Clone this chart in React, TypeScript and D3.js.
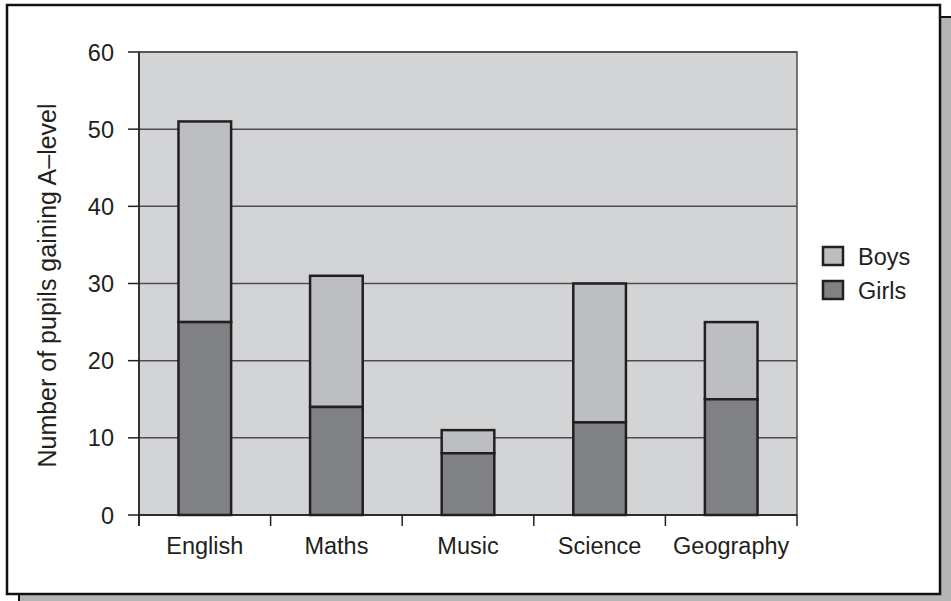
import React from "react";
import * as d3 from "d3";

const categories = ["English", "Maths", "Music", "Science", "Geography"];
const girls = [25, 14, 8, 12, 15];
const boys = [26, 17, 3, 18, 10];
const yTicks = [0, 10, 20, 30, 40, 50, 60];
const seriesNames = ["Boys", "Girls"];
const yLabel = "Number of pupils gaining A\u2013level";

const W = 951;
const H = 601;
const plot = { left: 139, right: 797, top: 52, bottom: 515 };
const ink = "#231f20";
const bg = "#d3d4d6";
const boyFill = "#bdbec1";
const girlFill = "#808184";
const font = "'Liberation Sans', Arial, Helvetica, sans-serif";
const fs = 23.5;

export default function App() {
  const x = d3
    .scaleBand<string>()
    .domain(categories)
    .range([plot.left, plot.right])
    .paddingInner(0.6)
    .paddingOuter(0.3);
  const y = d3.scaleLinear().domain([0, 60]).range([plot.bottom, plot.top]);
  const step = x.step();
  const boundaries = d3.range(categories.length + 1).map((i) => plot.left + i * step);

  return (
    <svg
      width={W}
      height={H}
      style={{ position: "absolute", left: 0, top: 0, display: "block" }}
      fontFamily={font}
    >
      <rect x={0} y={0} width={W} height={H} fill="#ffffff" />
      {/* shadow */}
      <rect x={19} y={17} width={W} height={H} fill="#b5b5b5" stroke="#111" strokeWidth={2} />
      {/* frame */}
      <rect x={7} y={5} width={933} height={589} fill="#ffffff" stroke="#111" strokeWidth={2.5} />

      {/* plot background */}
      <rect
        x={plot.left}
        y={plot.top}
        width={plot.right - plot.left}
        height={plot.bottom - plot.top}
        fill={bg}
        stroke="#4d4d4f"
        strokeWidth={1.5}
      />
      {/* gridlines */}
      {yTicks.map((t) => (
        <line
          key={"g" + t}
          x1={plot.left}
          x2={plot.right}
          y1={y(t)}
          y2={y(t)}
          stroke="#4d4d4f"
          strokeWidth={1.5}
        />
      ))}
      {/* y axis */}
      <line x1={plot.left} x2={plot.left} y1={plot.top} y2={plot.bottom + 11} stroke={ink} strokeWidth={1.5} />
      {yTicks.map((t) => (
        <g key={"y" + t}>
          <line x1={plot.left - 11} x2={plot.left} y1={y(t)} y2={y(t)} stroke={ink} strokeWidth={1.5} />
          <text x={114} y={y(t) + 8.5} textAnchor="end" fontSize={fs} fill={ink}>
            {t}
          </text>
        </g>
      ))}
      {/* x axis */}
      <line x1={plot.left} x2={plot.right} y1={plot.bottom} y2={plot.bottom} stroke={ink} strokeWidth={1.5} />
      {boundaries.map((bx, i) => (
        <line key={"xt" + i} x1={bx} x2={bx} y1={plot.bottom} y2={plot.bottom + 11} stroke={ink} strokeWidth={1.5} />
      ))}
      {categories.map((c) => (
        <text
          key={"xl" + c}
          x={(x(c) as number) + x.bandwidth() / 2}
          y={554}
          textAnchor="middle"
          fontSize={fs}
          fill={ink}
        >
          {c}
        </text>
      ))}

      {/* bars */}
      {categories.map((c, i) => {
        const bx = x(c) as number;
        const bw = x.bandwidth();
        return (
          <g key={"b" + c}>
            <rect
              x={bx}
              y={y(girls[i] + boys[i])}
              width={bw}
              height={y(girls[i]) - y(girls[i] + boys[i])}
              fill={boyFill}
              stroke={ink}
              strokeWidth={2.5}
            />
            <rect
              x={bx}
              y={y(girls[i])}
              width={bw}
              height={y(0) - y(girls[i])}
              fill={girlFill}
              stroke={ink}
              strokeWidth={2.5}
            />
          </g>
        );
      })}

      {/* y label */}
      <text
        transform={`translate(55.5,${(plot.top + plot.bottom) / 2 + 2}) rotate(-90)`}
        textAnchor="middle"
        fontSize={25}
        fill={ink}
      >
        {yLabel}
      </text>

      {/* legend */}
      {seriesNames.map((s, i) => (
        <g key={"lg" + s}>
          <rect
            x={823}
            y={247 + i * 34}
            width={20}
            height={18}
            fill={i === 0 ? boyFill : girlFill}
            stroke={ink}
            strokeWidth={2.5}
          />
          <text x={858} y={265 + i * 34} fontSize={fs} fill={ink}>
            {s}
          </text>
        </g>
      ))}
    </svg>
  );
}
